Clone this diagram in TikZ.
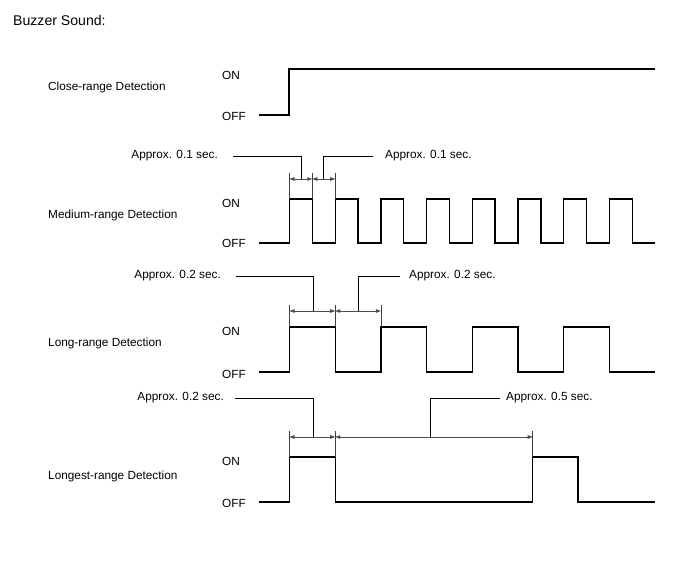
\documentclass[tikz,border=0pt]{standalone}
\usepackage{fontspec}
\setmainfont{Liberation Sans}
\usetikzlibrary{arrows.meta}
\begin{document}
\begin{tikzpicture}[x=1pt,y=-1pt,
  lbl/.style={font=\fontsize{11.8}{14}\selectfont, inner sep=0pt},
  sig/.style={line width=1.4pt, line join=miter},
  dimline/.style={line width=0.6pt, draw=black!70, {Triangle[length=5pt,width=3.5pt]}-{Triangle[length=5pt,width=3.5pt]}},
  ext/.style={line width=0.5pt, draw=black!75},
  lead/.style={line width=0.8pt}]
\useasboundingbox (0,0) rectangle (688,560);
\fill[white] (0,0) rectangle (688,560);

\node[anchor=west, inner sep=0pt, font=\fontsize{14.1}{17}\selectfont] (title) at (13,20) {Buzzer Sound:};

% ---------- Close-range ----------
\node[lbl, anchor=west] (cname) at (48,87) {Close-range Detection};
\node[lbl, anchor=west] (con) at (222,75) {ON};
\node[lbl, anchor=west] (coff) at (222,116) {OFF};
\draw[sig] (259,115) -- (289,115) -- (289,69) -- (655,69);

% ---------- Medium-range ----------
\node[lbl, anchor=west] (mname) at (48,215) {Medium-range Detection};
\node[lbl, anchor=west] (mon) at (222,203) {ON};
\node[lbl, anchor=west] (moff) at (222,243) {OFF};
\draw[sig] (259,243)
  \foreach \i in {0,...,7} {
    -- ({289.5+45.7*\i},243) -- ({289.5+45.7*\i},199)
    -- ({312.3+45.7*\i},199) -- ({312.3+45.7*\i},243)
  } -- (655,243);
\coordinate (ma) at (289.5,179);
\coordinate (mb) at (312.3,179);
\coordinate (mc) at (335.2,179);
\draw[ext] (289.5,173) -- (289.5,199);
\draw[ext] (312.3,173) -- (312.3,199);
\draw[ext] (335.2,173) -- (335.2,199);
\draw[dimline] (ma) -- (mb);
\draw[dimline] (mb) -- (mc);
\node[lbl, anchor=east] (ml) at (218,156) {Approx. 0.1 sec.};
\node[lbl, anchor=west] (mr) at (385,156) {Approx. 0.1 sec.};
\coordinate (mlm) at (301,179);
\coordinate (mrm) at (323.5,179);
\draw[lead] (233,156) -| (mlm);
\draw[lead] (373,156) -| (mrm);

% ---------- Long-range ----------
\node[lbl, anchor=west] (lname) at (48,343) {Long-range Detection};
\node[lbl, anchor=west] (lon) at (222,331) {ON};
\node[lbl, anchor=west] (loff) at (222,374) {OFF};
\draw[sig] (259,372)
  \foreach \i in {0,...,3} {
    -- ({289.5+91.4*\i},372) -- ({289.5+91.4*\i},327)
    -- ({335.2+91.4*\i},327) -- ({335.2+91.4*\i},372)
  } -- (655,372);
\coordinate (la) at (289.5,311);
\coordinate (lb) at (335.2,311);
\coordinate (lc) at (380.9,311);
\draw[ext] (289.5,305) -- (289.5,327);
\draw[ext] (335.2,305) -- (335.2,327);
\draw[ext] (380.9,305) -- (380.9,327);
\draw[dimline] (la) -- (lb);
\draw[dimline] (lb) -- (lc);
\node[lbl, anchor=east] (ll) at (221,276) {Approx. 0.2 sec.};
\node[lbl, anchor=west] (lr) at (409,276) {Approx. 0.2 sec.};
\coordinate (llm) at (313,311);
\coordinate (lrm) at (358,311);
\draw[lead] (236,276) -| (llm);
\draw[lead] (400,276) -| (lrm);

% ---------- Longest-range ----------
\node[lbl, anchor=west] (gname) at (48,476) {Longest-range Detection};
\node[lbl, anchor=west] (gon) at (222,461) {ON};
\node[lbl, anchor=west] (goff) at (222,503) {OFF};
\draw[sig] (259,502) -- (289.5,502) -- (289.5,457) -- (335.2,457) -- (335.2,502)
  -- (532.7,502) -- (532.7,457) -- (578,457) -- (578,502) -- (655,502);
\coordinate (ga) at (289.5,437);
\coordinate (gb) at (335.2,437);
\coordinate (gc) at (532.7,437);
\draw[ext] (289.5,431) -- (289.5,457);
\draw[ext] (335.2,431) -- (335.2,457);
\draw[ext] (532.7,431) -- (532.7,457);
\draw[dimline] (ga) -- (gb);
\draw[dimline] (gb) -- (gc);
\node[lbl, anchor=east] (gl) at (224,398) {Approx. 0.2 sec.};
\node[lbl, anchor=west] (gr) at (506,398) {Approx. 0.5 sec.};
\coordinate (glm) at (313,437);
\coordinate (grm) at (430,437);
\draw[lead] (235,398) -| (glm);
\draw[lead] (500,398) -| (grm);
\end{tikzpicture}
\end{document}
